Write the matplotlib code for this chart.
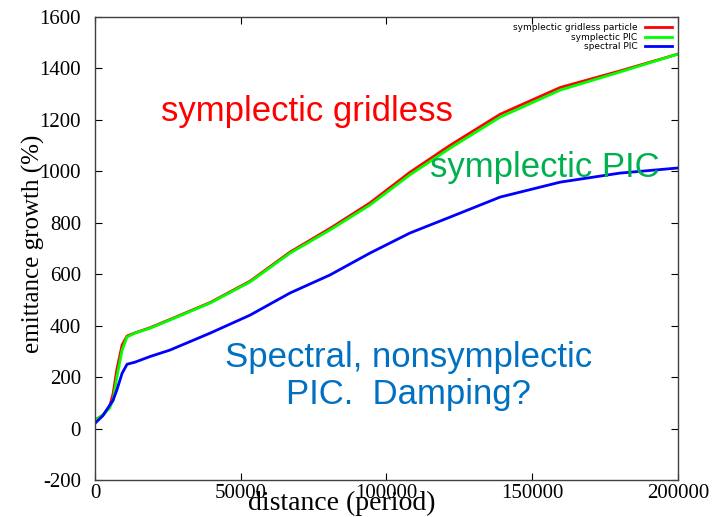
import numpy as np
import matplotlib
matplotlib.use('Agg')
import matplotlib.pyplot as plt

plt.rcParams['axes.unicode_minus'] = False

# %% data

distance = [0, 2700, 5000, 6200, 7500, 9300, 11000, 13700, 18900, 25700, 39500,
            53200, 66900, 80600, 94300, 108000, 121800, 139000, 159600, 180000, 200000]

gridless = [33, 52, 85, 135, 230, 325, 360, 372, 392, 424, 490,
            573, 686, 778, 877, 996, 1101, 1222, 1326, 1390, 1456]

symp_pic = [33, 52, 80, 110, 200, 305, 356, 371, 390, 422, 488,
            570, 682, 772, 869, 986, 1090, 1211, 1316, 1386, 1456]

spectral = [20, 50, 90, 110, 150, 215, 250, 258, 280, 305, 371,
            441, 527, 597, 682, 760, 822, 900, 958, 993, 1013]

labels = ['symplectic gridless particle', 'symplectic PIC', 'spectral PIC']
xticks = [0, 50000, 100000, 150000, 200000]
yticks = np.arange(-200, 1601, 200)

# %% plot

fig = plt.figure(figsize=(7.17, 5.17), dpi=100)
ax = fig.add_axes([0.1325, 0.0716, 0.8131, 0.8955])

ax.plot(distance, gridless, color='#ff0000', lw=2.0, label=labels[0])
ax.plot(distance, symp_pic, color='#00ff00', lw=2.0, label=labels[1])
ax.plot(distance, spectral, color='#0000ff', lw=2.0, label=labels[2])

ax.set_xlim(0, 200000)
ax.set_ylim(-200, 1600)
ax.set_xticks(xticks)
ax.set_yticks(yticks)
ax.tick_params(direction='in', top=True, right=True, length=5, width=0.8,
               labelsize=15)
ax.tick_params(axis='y', pad=10)
ax.tick_params(axis='x', pad=3)
for lab in ax.get_xticklabels() + ax.get_yticklabels():
    lab.set_family('Liberation Serif')
for sp in ax.spines.values():
    sp.set_color('#404040')
    sp.set_linewidth(1.0)

ax.set_xlabel('distance (period)', family='Liberation Serif', fontsize=20, va='top')
ax.xaxis.set_label_coords(0.424, -0.024)
ax.set_ylabel('emittance growth (%)', family='Liberation Serif', fontsize=18)
ax.yaxis.set_label_coords(-0.086, 0.51)

leg = ax.legend(loc='upper right', frameon=False, markerfirst=False, fontsize=6.5,
                handlelength=3, borderaxespad=0.3, labelspacing=0.05)
for t in leg.get_texts():
    t.set_ha('right')

# annotations
ax.text(0.114, 0.795, 'symplectic gridless', transform=ax.transAxes, color='#ff0000',
        family='Liberation Sans', fontsize=25, va='center', ha='left')
ax.text(0.969, 0.676, 'symplectic PIC', transform=ax.transAxes, color='#00b050',
        family='Liberation Sans', fontsize=25, va='center', ha='right')
ax.text(0.537, 0.225, 'Spectral, nonsymplectic\nPIC.  Damping?', transform=ax.transAxes,
        color='#0070c0', family='Liberation Sans', fontsize=25, va='center', ha='center',
        linespacing=1.15)

fig.savefig('out.png', dpi=100)
